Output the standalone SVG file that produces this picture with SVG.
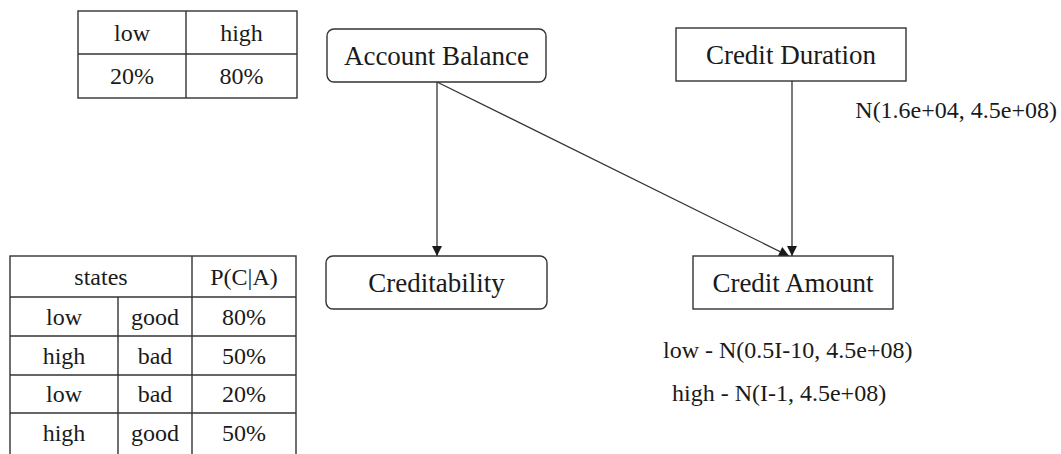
<svg xmlns="http://www.w3.org/2000/svg" width="1061" height="454" viewBox="0 0 1061 454" font-family="'Liberation Serif', 'Times New Roman', serif">
  <style>
    text { font-family: "Liberation Serif", "Times New Roman", serif; fill: #1a1a1a; }
    .node { font-size: 27px; text-anchor: middle; }
    .cell { font-size: 24px; text-anchor: middle; }
    .ann { font-size: 24px; }
    .box { fill: #ffffff; stroke: #333333; stroke-width: 1.4; }
    .grid { fill: none; stroke: #333333; stroke-width: 1.4; }
    .edge { fill: none; stroke: #333333; stroke-width: 1.3; }
  </style>
  <defs>
    <marker id="arrow" viewBox="0 0 10 10" refX="10" refY="5" markerWidth="11" markerHeight="10" markerUnits="userSpaceOnUse" orient="auto">
      <path d="M0,0 L10,5 L0,10 Z" fill="#1a1a1a"/>
    </marker>
  </defs>
  <rect width="1061" height="454" fill="#ffffff"/>

  <g id="table-account-balance">
    <rect class="grid" x="78" y="11" width="219" height="87"/>
    <line class="grid" x1="78" y1="54" x2="297" y2="54"/>
    <line class="grid" x1="186" y1="11" x2="186" y2="98"/>
    <text class="cell" x="132" y="41">low</text>
    <text class="cell" x="241.5" y="41">high</text>
    <text class="cell" x="132" y="84">20%</text>
    <text class="cell" x="241.5" y="84">80%</text>
  </g>

  <g id="table-creditability">
    <rect class="grid" x="10" y="256" width="286" height="200"/>
    <line class="grid" x1="10" y1="297" x2="296" y2="297"/>
    <line class="grid" x1="10" y1="336" x2="296" y2="336"/>
    <line class="grid" x1="10" y1="375" x2="296" y2="375"/>
    <line class="grid" x1="10" y1="413" x2="296" y2="413"/>
    <line class="grid" x1="118" y1="297" x2="118" y2="456"/>
    <line class="grid" x1="192" y1="256" x2="192" y2="456"/>
    <text class="cell" x="101" y="285">states</text>
    <text class="cell" x="244" y="285">P(C|A)</text>
    <text class="cell" x="64" y="325">low</text>
    <text class="cell" x="155" y="325">good</text>
    <text class="cell" x="244" y="325">80%</text>
    <text class="cell" x="64" y="364">high</text>
    <text class="cell" x="155" y="364">bad</text>
    <text class="cell" x="244" y="364">50%</text>
    <text class="cell" x="64" y="402">low</text>
    <text class="cell" x="155" y="402">bad</text>
    <text class="cell" x="244" y="402">20%</text>
    <text class="cell" x="64" y="441">high</text>
    <text class="cell" x="155" y="441">good</text>
    <text class="cell" x="244" y="441">50%</text>
  </g>

  <g id="connectors">
    <line class="edge" x1="437" y1="82" x2="437" y2="256" marker-end="url(#arrow)"/>
    <line class="edge" x1="437" y1="82" x2="789" y2="256" marker-end="url(#arrow)"/>
    <line class="edge" x1="792" y1="81" x2="792" y2="256" marker-end="url(#arrow)"/>
  </g>

  <g id="node-account-balance">
    <rect class="box" x="327" y="29" width="219" height="53" rx="7"/>
    <text class="node" x="436.5" y="64.5">Account Balance</text>
  </g>

  <g id="node-credit-duration">
    <rect class="box" x="676" y="28" width="230" height="53"/>
    <text class="node" x="791" y="63.5">Credit Duration</text>
    <text class="ann" x="1057" y="118" text-anchor="end">N(1.6e+04, 4.5e+08)</text>
  </g>

  <g id="node-creditability">
    <rect class="box" x="326" y="256" width="221" height="53" rx="7"/>
    <text class="node" x="436.5" y="291.5">Creditability</text>
  </g>

  <g id="node-credit-amount">
    <rect class="box" x="693" y="256" width="200" height="53"/>
    <text class="node" x="793" y="291.5">Credit Amount</text>
    <text class="ann" x="663" y="358">low - N(0.5I-10, 4.5e+08)</text>
    <text class="ann" x="672" y="401">high - N(I-1, 4.5e+08)</text>
  </g>
</svg>
